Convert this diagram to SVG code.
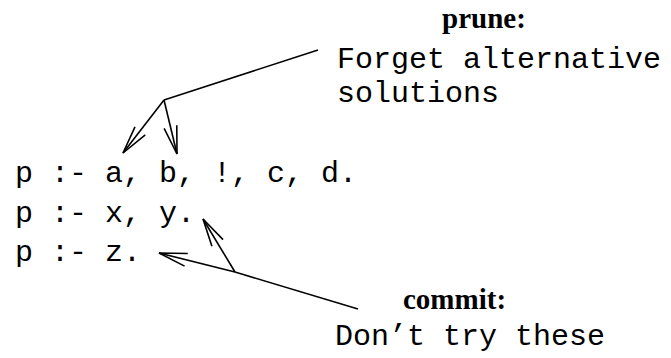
<svg xmlns="http://www.w3.org/2000/svg" width="671" height="358" viewBox="0 0 671 358">
<style>
.code{font-family:"Liberation Mono","DejaVu Sans Mono",monospace;font-size:30px;fill:#000}
.head{font-family:"Liberation Serif","DejaVu Serif",serif;font-size:29px;font-weight:bold;fill:#000}
.ln{stroke:#000;stroke-width:1.6;fill:none}
</style>
<defs>
<marker id="ah" markerUnits="userSpaceOnUse" markerWidth="40" markerHeight="30" viewBox="-32 -15 40 30" refX="0" refY="0" orient="auto" overflow="visible">
<path d="M-28,-6.5 L0,0 L-28,6.5" fill="none" stroke="#000" stroke-width="1.6"/>
</marker>
</defs>
<rect width="671" height="358" fill="#fff"/>
<g id="code">
<text class="code" x="15" y="182" xml:space="preserve">p :- a, b, !, c, d.</text>
<text class="code" x="15" y="222" xml:space="preserve">p :- x, y.</text>
<text class="code" x="15" y="261" xml:space="preserve">p :- z.</text>
</g>
<g id="prune">
<text class="head" x="442" y="28">prune:</text>
<text class="code" x="337" y="68">Forget alternative</text>
<text class="code" x="337" y="102">solutions</text>
</g>
<g id="commit">
<text class="head" x="403" y="309">commit:</text>
<text class="code" x="335" y="345">Don’t try these</text>
</g>
<g id="connectors">
<line class="ln" x1="318" y1="50" x2="164" y2="100"/>
<line class="ln" x1="164" y1="100" x2="123" y2="153" marker-end="url(#ah)"/>
<line class="ln" x1="164" y1="100" x2="177" y2="154" marker-end="url(#ah)"/>
<line class="ln" x1="358" y1="309" x2="235" y2="272"/>
<line class="ln" x1="235" y1="272" x2="159" y2="253" marker-end="url(#ah)"/>
<line class="ln" x1="235" y1="272" x2="203" y2="219" marker-end="url(#ah)"/>
</g>
</svg>
